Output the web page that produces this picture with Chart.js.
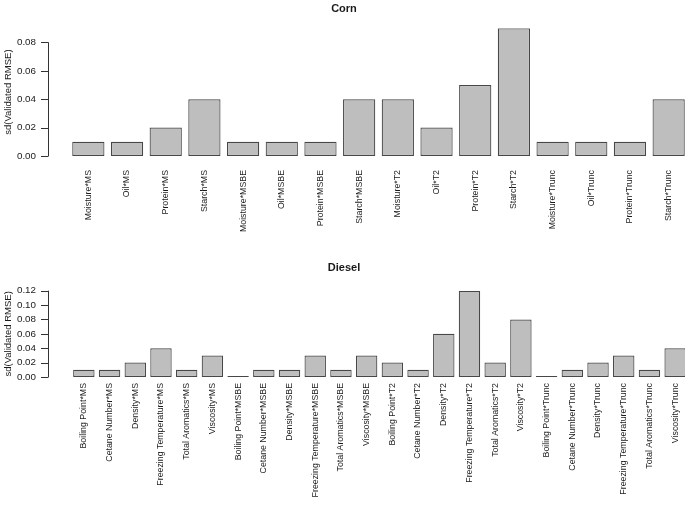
<!DOCTYPE html>
<html>
<head>
<meta charset="utf-8">
<script src="https://cdn.jsdelivr.net/npm/chart.js@4.4.1/dist/chart.umd.min.js"></script>
<style>
  html, body { margin: 0; padding: 0; background: #fff; overflow: hidden; }
  #wrap { position: relative; width: 688px; height: 506px; }
  canvas { position: absolute; left: 0; }
  #corn { top: 0; }
  #diesel { top: 250px; }
</style>
</head>
<body>
<div id="wrap">
  <canvas id="corn" width="688" height="250"></canvas>
  <canvas id="diesel" width="688" height="256"></canvas>
</div>
<script>
// --- DATA ---
const cornLabels = ['Moisture*MS', 'Oil*MS', 'Protein*MS', 'Starch*MS',
  'Moisture*MSBE', 'Oil*MSBE', 'Protein*MSBE', 'Starch*MSBE',
  'Moisture*T2', 'Oil*T2', 'Protein*T2', 'Starch*T2',
  'Moisture*Trunc', 'Oil*Trunc', 'Protein*Trunc', 'Starch*Trunc'];
const cornValues = [0.01, 0.01, 0.02, 0.04, 0.01, 0.01, 0.01, 0.04,
  0.04, 0.02, 0.05, 0.09, 0.01, 0.01, 0.01, 0.04];
const cornTicks = [0, 0.02, 0.04, 0.06, 0.08];

const dieselLabels = ['Boiling Point*MS', 'Cetane Number*MS', 'Density*MS', 'Freezing Temperature*MS', 'Total Aromatics*MS', 'Viscosity*MS',
  'Boiling Point*MSBE', 'Cetane Number*MSBE', 'Density*MSBE', 'Freezing Temperature*MSBE', 'Total Aromatics*MSBE', 'Viscosity*MSBE',
  'Boiling Point*T2', 'Cetane Number*T2', 'Density*T2', 'Freezing Temperature*T2', 'Total Aromatics*T2', 'Viscosity*T2',
  'Boiling Point*Trunc', 'Cetane Number*Trunc', 'Density*Trunc', 'Freezing Temperature*Trunc', 'Total Aromatics*Trunc', 'Viscosity*Trunc'];
const dieselValues = [0.01, 0.01, 0.02, 0.04, 0.01, 0.03,
  0.00, 0.01, 0.01, 0.03, 0.01, 0.03,
  0.02, 0.01, 0.06, 0.12, 0.02, 0.08,
  0.00, 0.01, 0.02, 0.03, 0.01, 0.04];
const dieselTicks = [0, 0.02, 0.04, 0.06, 0.08, 0.10, 0.12];

const FONT = 'Liberation Sans, Arial, sans-serif';
const INK = '#1a1a1a';

// R-style left axis: line only over the tick range, ticks pointing out
const rAxis = {
  id: 'rAxis',
  afterDraw(chart, args, opts) {
    const y = chart.scales.y;
    const ticks = y.ticks.map(t => t.value);
    const c = chart.ctx;
    const x = opts.x;
    c.save();
    c.strokeStyle = '#333';
    c.lineWidth = 1;
    c.beginPath();
    c.moveTo(x + 0.5, y.getPixelForValue(ticks[0]));
    c.lineTo(x + 0.5, y.getPixelForValue(ticks[ticks.length - 1]));
    ticks.forEach(v => {
      const py = Math.round(y.getPixelForValue(v)) + 0.5;
      c.moveTo(x + 0.5, py);
      c.lineTo(x - 7, py);
    });
    c.stroke();
    c.restore();
  }
};

function makeChart(id, labels, values, ticks, o) {
  return new Chart(document.getElementById(id), {
    type: 'bar',
    data: {
      labels: labels,
      datasets: [{
        data: values,
        backgroundColor: '#bebebe',
        borderColor: '#474747',
        borderWidth: 1.2,
        borderSkipped: false,
        minBarLength: 1,
        barPercentage: 1 / 1.2,
        categoryPercentage: 1
      }]
    },
    options: {
      responsive: false,
      animation: false,
      events: [],
      layout: { padding: 0 },
      plugins: {
        legend: { display: false },
        tooltip: { enabled: false },
        title: {
          display: true,
          text: o.title,
          color: INK,
          font: { family: FONT, size: 11, weight: 'bold', lineHeight: 1.2 },
          padding: o.titlePad
        },
        rAxis: { x: 48 }
      },
      scales: {
        x: {
          grid: { display: false, drawTicks: false },
          border: { display: false },
          ticks: {
            autoSkip: false,
            minRotation: 90,
            maxRotation: 90,
            padding: o.xPad,
            color: INK,
            font: { family: FONT, size: 8.8 }
          },
          afterFit: s => { s.height = o.xHeight; s.paddingLeft = 0; s.paddingRight = 0; }
        },
        y: {
          min: 0,
          max: o.max,
          grid: { display: false, drawTicks: false },
          border: { display: false },
          afterBuildTicks: s => { s.ticks = ticks.map(v => ({ value: v })); },
          afterFit: s => { s.width = o.yWidth; s.paddingTop = 0; s.paddingBottom = 0; },
          ticks: {
            autoSkip: false,
            padding: o.yWidth - 36,
            color: INK,
            font: { family: FONT, size: 9.8 },
            callback: v => Number(v).toFixed(2)
          },
          title: {
            display: true,
            text: 'sd(Validated RMSE)',
            color: INK,
            font: { family: FONT, size: 9.5 },
            padding: { top: 3, bottom: 0 }
          }
        }
      }
    },
    plugins: [rAxis]
  });
}

makeChart('corn', cornLabels, cornValues, cornTicks, {
  title: 'Corn', titlePad: { top: 2, bottom: 13 }, max: 0.09,
  xHeight: 94, xPad: 14, yWidth: 69
});
makeChart('diesel', dieselLabels, dieselValues, dieselTicks, {
  title: 'Diesel', titlePad: { top: 11.5, bottom: 16 }, max: 0.12,
  xHeight: 129, xPad: 6, yWidth: 71
});
</script>
</body>
</html>
